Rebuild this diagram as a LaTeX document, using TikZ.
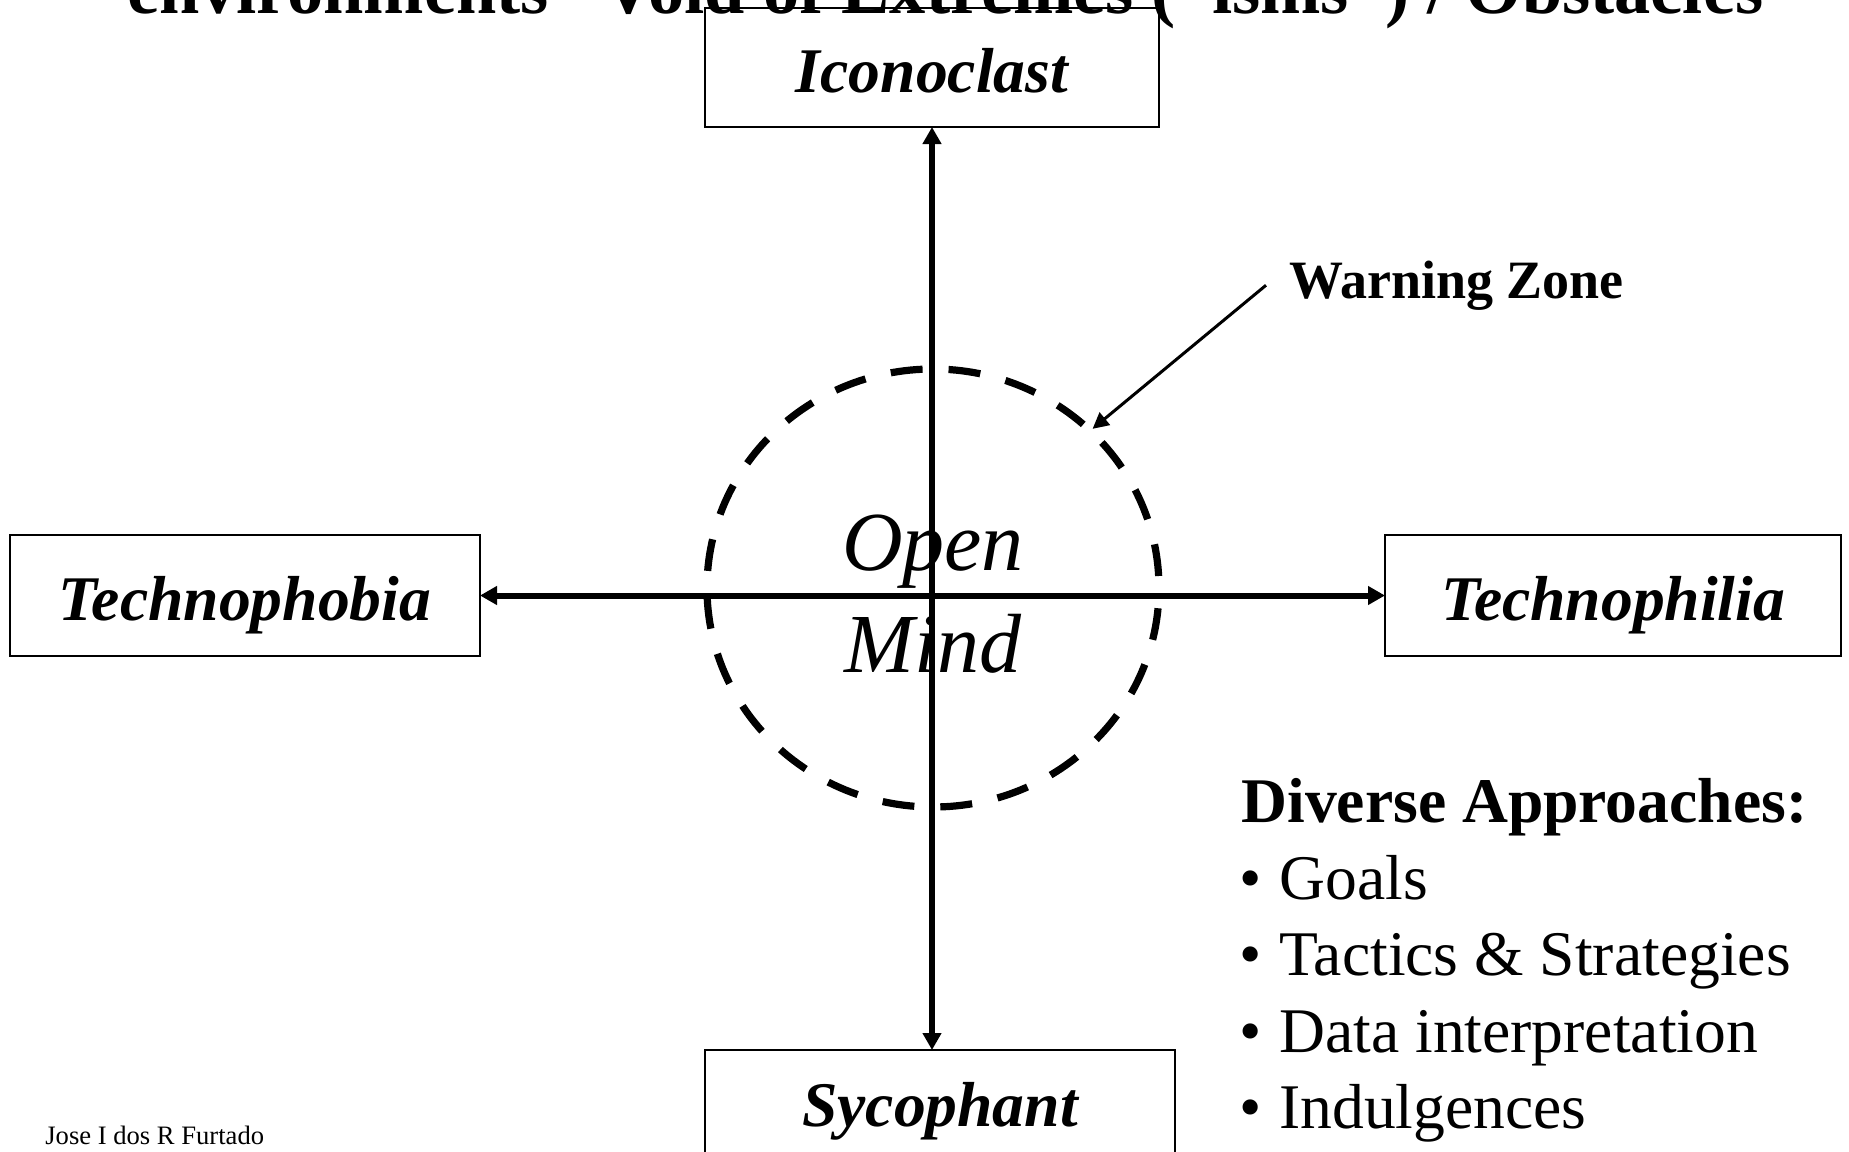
\documentclass[tikz,border=0pt]{standalone}
\usepackage{fontspec}
\setmainfont{Liberation Serif}
\usetikzlibrary{arrows.meta,shapes.geometric}

\tikzset{
  pole/.style={draw, line width=1pt, fill=white, inner sep=0pt, outer sep=0pt,
    font=\fontsize{31.8}{38}\selectfont\bfseries\itshape,
    text height=24.5pt, text depth=0pt},
  axis/.style={line width=3pt,
    {Triangle[length=8.5pt,width=9pt]}-{Triangle[length=8.5pt,width=9pt]}},
  zonering/.style={ellipse, draw, line width=3.6pt, inner sep=0pt, outer sep=0pt,
    dash pattern=on 16pt off 13pt, dash phase=23pt},
  pointer/.style={line width=1.5pt, -{Triangle[length=8pt,width=8pt]}, shorten >=1.5pt},
  mindtext/.style={anchor=base, inner sep=0pt, font=\fontsize{42}{51}\selectfont\itshape},
  listhead/.style={anchor=base west, inner sep=0pt, font=\fontsize{31.8}{38}\selectfont\bfseries},
  listitem/.style={anchor=base west, inner sep=0pt, font=\fontsize{31.8}{38}\selectfont},
}

\begin{document}
\begin{tikzpicture}[x=0.5pt, y=-0.5pt]
  \useasboundingbox (0,0) rectangle (1849,1152);
  \clip (0,0) rectangle (1849,1152);
  \fill[white] (0,0) rectangle (1849,1152);

  % the four poles
  \node[pole, minimum width=227pt, minimum height=59.5pt] (icon) at (932,67.5) {Iconoclast};
  \node[pole, minimum width=235pt, minimum height=52pt]   (syc)  at (940,1102) {Sycophant};
  \node[pole, minimum width=235pt, minimum height=60.5pt] (phob) at (245,595.5) {Technophobia};
  \node[pole, minimum width=228pt, minimum height=60.5pt] (phil) at (1613,595.5) {Technophilia};

  % axes between the poles
  \draw[axis] (phob.east) -- (phil.west);
  \draw[axis] (icon.south) -- (icon.south |- syc.north);

  % warning zone around the open mind
  \node[zonering, minimum width=226pt, minimum height=219pt] (zone) at (933,588) {};
  \node[mindtext] (open) at (933,570) {Open};
  \node[mindtext] (mind) at (933,672) {Mind};

  \node[anchor=base west, inner sep=0pt, font=\fontsize{27}{32}\selectfont\bfseries]
    (wz) at (1289,298) {Warning Zone};
  \draw[pointer] ([xshift=-11.5pt]wz.west) -- (zone.45);

  % list of approaches
  \node[listhead] (dahead) at (1241,822) {Diverse Approaches:};
  \foreach \y/\txt/\nm in {899/Goals/ga, 975/Tactics \& Strategies/gb,
                           1052/Data interpretation/gc, 1128/Indulgences/gd}{
    \node[listitem] (\nm-dot) at (1239,\y) {•};
    \node[listitem] (\nm) at (1279,\y) {\txt};
  }

  % title line
  \node[anchor=base, inner sep=0pt, font=\fontsize{36.2}{43}\selectfont\bfseries]
    (title) at (945.5,13) {environments” Void of Extremes (“isms”) / Obstacles};

  % author
  \node[anchor=base west, inner sep=0pt, font=\fontsize{13.3}{16}\selectfont]
    (author) at (45,1144) {Jose I dos R Furtado};
\end{tikzpicture}
\end{document}
